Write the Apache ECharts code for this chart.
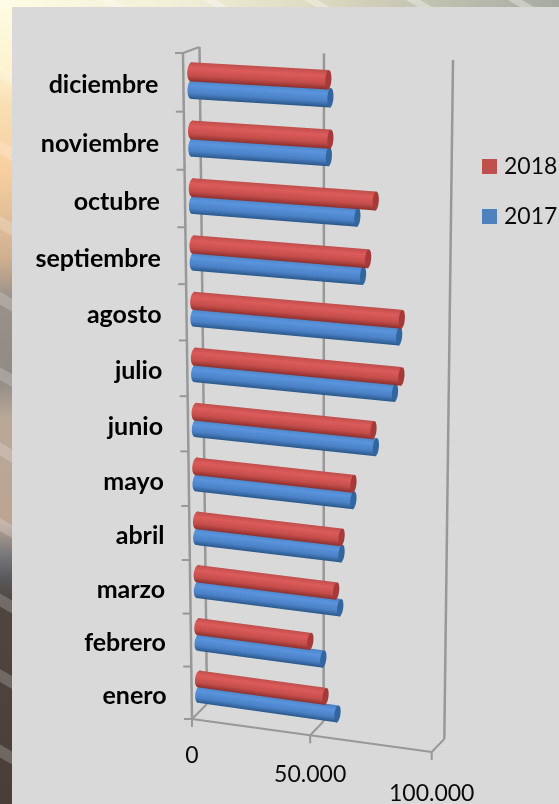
<!DOCTYPE html>
<html>
<head>
<meta charset="utf-8">
<script src="https://cdn.jsdelivr.net/npm/echarts@6/dist/echarts.min.js"></script>
<style>
  html, body { margin: 0; padding: 0; background: #d9d9d9; }
  #chart { width: 559px; height: 804px; }
</style>
</head>
<body>
<div id="chart"></div>
<script>
// datos
const categories = ['enero', 'febrero', 'marzo', 'abril', 'mayo', 'junio', 'julio', 'agosto', 'septiembre', 'octubre', 'noviembre', 'diciembre'];
const values2017 = [58600, 52700, 59700, 60200, 65000, 74000, 81500, 83000, 68600, 66300, 55000, 55600];
const values2018 = [53600, 47300, 58000, 60200, 65000, 73000, 84000, 84000, 70600, 73500, 55600, 54800];
const valueTicks = [0, 50000, 100000];
const valueTickLabels = ['0', '50.000', '100.000'];

// planos de la caja 3D, esquinas: arriba-izq, arriba-der, abajo-der, abajo-izq
const frontPlane = makeWarp([[183, 53], [438, 68], [431.7, 752], [192, 719]]);
const backPlane = makeWarp([[199.5, 47], [453, 60], [444.3, 739], [207, 704]]);
const midPlane = makeWarp([[191, 50], [445.5, 64], [438, 745.5], [199.5, 711.5]]);

const LABEL_FONT = 'bold 25px Lato';
const TICK_FONT = '23px Lato';
const AXIS_COLOR = '#989898';

const redStops = [
  { offset: 0, color: '#c04e4b' }, { offset: 0.3, color: '#dc5b5b' },
  { offset: 0.7, color: '#c44d4a' }, { offset: 1, color: '#8c302e' }
];
const blueStops = [
  { offset: 0, color: '#4b82c4' }, { offset: 0.3, color: '#5a94dc' },
  { offset: 0.7, color: '#4a80c6' }, { offset: 1, color: '#2a5788' }
];

// homografia del cuadrado unidad al cuadrilatero
function makeWarp(q) {
  const dx1 = q[1][0] - q[2][0], dx2 = q[3][0] - q[2][0], sx = q[0][0] - q[1][0] + q[2][0] - q[3][0];
  const dy1 = q[1][1] - q[2][1], dy2 = q[3][1] - q[2][1], sy = q[0][1] - q[1][1] + q[2][1] - q[3][1];
  const den = dx1 * dy2 - dx2 * dy1;
  const g = (sx * dy2 - dx2 * sy) / den;
  const h = (dx1 * sy - sx * dy1) / den;
  const a = q[1][0] - q[0][0] + g * q[1][0], b = q[3][0] - q[0][0] + h * q[3][0];
  const d = q[1][1] - q[0][1] + g * q[1][1], e = q[3][1] - q[0][1] + h * q[3][1];
  return function (u, v) {
    const w = g * u + h * v + 1;
    return [(a * u + b * v + q[0][0]) / w, (d * u + e * v + q[0][1]) / w];
  };
}

function ellipsePoints(c, dir, rx, ry) {
  const pts = [];
  for (let i = 0; i < 24; i++) {
    const t = i / 24 * Math.PI * 2;
    pts.push([
      c[0] + rx * Math.cos(t) * dir[0] - ry * Math.sin(t) * dir[1],
      c[1] + rx * Math.cos(t) * dir[1] + ry * Math.sin(t) * dir[0]
    ]);
  }
  return pts;
}

// cilindro horizontal
function cylinderItem(stops, capColor, offsetPx) {
  return function (params, api) {
    const cs = params.coordSys;
    const start = api.coord([0, api.value(1)]);
    const end = api.coord([api.value(0), api.value(1)]);
    const u = (end[0] - cs.x) / cs.width;
    const v = (end[1] + offsetPx - cs.y) / cs.height;
    const t = 9 / cs.height;
    const A = midPlane((start[0] - cs.x) / cs.width, v);
    const B = midPlane(u, v);
    const len = Math.hypot(B[0] - A[0], B[1] - A[1]);
    const dir = [(B[0] - A[0]) / len, (B[1] - A[1]) / len];
    const topA = midPlane(0, v - t), botA = midPlane(0, v + t);
    const topB = midPlane(u, v - t), botB = midPlane(u, v + t);
    const hA = Math.hypot(botA[0] - topA[0], botA[1] - topA[1]) / 2;
    const hB = Math.hypot(botB[0] - topB[0], botB[1] - topB[1]) / 2;
    const M = [(A[0] + B[0]) / 2, (A[1] + B[1]) / 2];
    const h = (hA + hB) / 2;
    const fill = new echarts.graphic.LinearGradient(
      M[0] + dir[1] * h, M[1] - dir[0] * h, M[0] - dir[1] * h, M[1] + dir[0] * h, stops, true);
    return {
      type: 'group',
      children: [
        { type: 'polygon', shape: { points: ellipsePoints(A, dir, 4, hA) }, style: { fill: fill } },
        { type: 'polygon', shape: { points: [topA, topB, botB, botA] }, style: { fill: fill } },
        { type: 'polygon', shape: { points: ellipsePoints(B, dir, 3, hB) }, style: { fill: capColor } }
      ]
    };
  };
}

function line(p, q, width) {
  return {
    type: 'line',
    shape: { x1: p[0], y1: p[1], x2: q[0], y2: q[1] },
    style: { stroke: AXIS_COLOR, lineWidth: width }
  };
}

function textEl(str, x, y, align, font, fill) {
  return {
    type: 'text',
    style: { text: str, x: x, y: y, align: align, verticalAlign: 'middle', font: font, fill: fill }
  };
}

// ejes, paredes y textos
function frameItem(params, api) {
  const cs = params.coordSys;
  const children = [];
  const bandV = api.size([0, 1])[1] / cs.height;

  valueTicks.forEach(function (val, i) {
    const u = (api.coord([val, 0])[0] - cs.x) / cs.width;
    const front = frontPlane(u, 1), back = backPlane(u, 1);
    children.push(line(backPlane(u, 0), back, 2.5));
    children.push(line(back, front, 2));
    children.push(line(front, [front[0], front[1] + 8], 2));
    children.push(textEl(valueTickLabels[i], front[0], front[1] + 37 + 5 * u, 'center', TICK_FONT, '#0a0a0a'));
  });

  children.push(line(frontPlane(0, 0), frontPlane(0, 1), 2.5));
  children.push(line(frontPlane(0, 0), backPlane(0, 0), 2));
  children.push(line(frontPlane(0, 1), frontPlane(1, 1), 2));

  categories.forEach(function (name, i) {
    const v = (api.coord([0, i])[1] - cs.y) / cs.height;
    const edge = frontPlane(0, v - bandV / 2);
    children.push(line(edge, [edge[0] - 8, edge[1]], 2));
    const mid = frontPlane(0, v);
    children.push(textEl(name, mid[0] - 25, mid[1] + 3, 'right', LABEL_FONT, '#000'));
  });
  const bottom = frontPlane(0, 1);
  children.push(line(bottom, [bottom[0] - 8, bottom[1]], 2));

  return { type: 'group', children: children };
}

// fondo de la diapositiva
function backdrop() {
  const els = [
    {
      type: 'rect', shape: { x: 0, y: 0, width: 12, height: 804 }, silent: true,
      style: {
        fill: new echarts.graphic.LinearGradient(0, 0, 0, 1, [
          { offset: 0, color: '#fefce4' }, { offset: 0.08, color: '#fdf4d0' },
          { offset: 0.13, color: '#f9deb4' }, { offset: 0.21, color: '#f8d0a0' },
          { offset: 0.32, color: '#d0b090' }, { offset: 0.37, color: '#9a928a' },
          { offset: 0.47, color: '#908a84' }, { offset: 0.52, color: '#b8a898' },
          { offset: 0.65, color: '#bba595' }, { offset: 0.69, color: '#78787a' },
          { offset: 0.72, color: '#58585a' }, { offset: 0.75, color: '#50463f' },
          { offset: 1, color: '#4a3f38' }
        ])
      }
    },
    {
      type: 'rect', shape: { x: 0, y: 0, width: 559, height: 7 }, silent: true,
      style: {
        fill: new echarts.graphic.LinearGradient(0, 0, 1, 0, [
          { offset: 0, color: '#fefce4' }, { offset: 0.3, color: '#f2f0d8' },
          { offset: 0.55, color: '#dedcc2' }, { offset: 0.78, color: '#c0c2b0' },
          { offset: 1, color: '#a6aaa2' }
        ])
      }
    }
  ];
  for (let i = 0; i < 10; i++) {
    const y = 65 + 75.5 * i;
    els.push({
      type: 'polygon', silent: true,
      shape: { points: [[0, y], [12, y + 7], [12, y + 20], [0, y + 13]] },
      style: { fill: 'rgba(255,255,255,0.2)' }
    });
  }
  for (let i = 0; i < 5; i++) {
    const x = 100 + 102 * i;
    els.push({
      type: 'polygon', silent: true,
      shape: { points: [[x, 0], [x + 14, 0], [x + 26, 7], [x + 12, 7]] },
      style: { fill: 'rgba(255,255,255,0.35)' }
    });
  }
  return els;
}

const chart = echarts.init(document.getElementById('chart'), null, { renderer: 'canvas' });
chart.setOption({
  animation: false,
  backgroundColor: '#d9d9d9',
  graphic: { elements: backdrop() },
  legend: {
    orient: 'vertical',
    left: 482,
    top: 155,
    padding: 0,
    itemWidth: 15,
    itemHeight: 15,
    itemGap: 27,
    selectedMode: false,
    textStyle: { fontFamily: 'Lato', fontSize: 23, color: '#0a0a0a', padding: [0, 0, 0, 2] },
    data: [{ name: '2018', icon: 'rect' }, { name: '2017', icon: 'rect' }]
  },
  grid: { left: 191, top: 50, width: 254, height: 661 },
  xAxis: { type: 'value', min: 0, max: 100000, interval: 50000, show: false },
  yAxis: { type: 'category', data: categories, show: false },
  series: [
    {
      name: 'frame',
      type: 'custom',
      silent: true,
      renderItem: frameItem,
      data: [[0, 0]],
      encode: { x: 0, y: 1 }
    },
    {
      name: '2017',
      type: 'custom',
      renderItem: cylinderItem(blueStops, '#33659f', 9.5),
      itemStyle: { color: '#4f81bd' },
      data: values2017.map(function (val, i) { return [val, i]; }),
      encode: { x: 0, y: 1 }
    },
    {
      name: '2018',
      type: 'custom',
      renderItem: cylinderItem(redStops, '#a53a38', -7),
      itemStyle: { color: '#c0504d' },
      data: values2018.map(function (val, i) { return [val, i]; }),
      encode: { x: 0, y: 1 }
    }
  ]
});
</script>
</body>
</html>
